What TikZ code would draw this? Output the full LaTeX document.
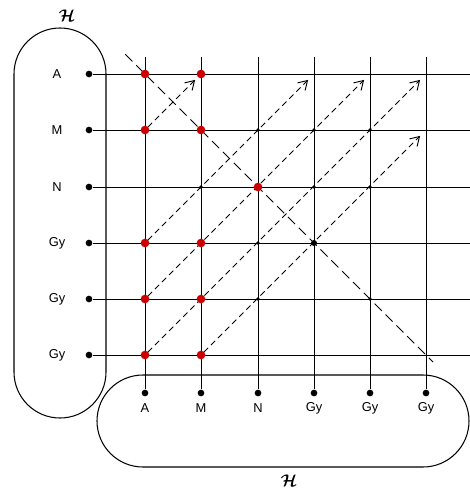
\documentclass[tikz,border=0pt]{standalone}
\usepackage{fontspec}
\setmainfont{Liberation Sans}
\usepackage{bm}
\usetikzlibrary{arrows.meta,calc}
\begin{document}
\begin{tikzpicture}[x=0.3mm, y=-0.3mm,
  grid/.style={line width=0.8pt},
  set/.style={draw, line width=0.9pt, rounded corners=13.8mm},
  enddot/.style={circle, fill, inner sep=0pt, minimum size=2mm},
  hit/.style={circle, fill=red!80!black, inner sep=0pt, minimum size=2.6mm},
  pass/.style={circle, fill, inner sep=0pt, minimum size=1.1mm},
  lbl/.style={font=\fontsize{11}{13}\selectfont},
  flow/.style={-{Straight Barb[length=2.6mm,width=3.2mm]}, line width=0.8pt,
               dash pattern=on 1.8mm off 1.2mm, shorten <=1.2mm, shorten >=2.5mm},
  diag/.style={line width=0.8pt, dash pattern=on 3mm off 1.6mm}]
\useasboundingbox (0,0) rectangle (470,491);
% the two sets
\draw[set] (14,28) rectangle (106,418);
\draw[set] (97,375) rectangle (469,467);
\node[font=\Large] (hleft) at (67,16) {$\bm{\mathcal{H}}$};
\node[font=\Large] (hbottom) at (289,481) {$\bm{\mathcal{H}}$};
% row elements (left set)
\node[enddot] (rA)  at (89,74)  {};
\node[enddot] (rM)  at (89,130) {};
\node[enddot] (rN)  at (89,187) {};
\node[enddot] (rG1) at (89,243) {};
\node[enddot] (rG2) at (89,299) {};
\node[enddot] (rG3) at (89,355) {};
\node[lbl] (tA)  at (57,74)  {A};
\node[lbl] (tM)  at (57,130) {M};
\node[lbl] (tN)  at (57,187) {N};
\node[lbl] (tG1) at (57,243) {Gy};
\node[lbl] (tG2) at (57,299) {Gy};
\node[lbl] (tG3) at (57,355) {Gy};
% column elements (bottom set)
\node[enddot] (cA)  at (145,393) {};
\node[enddot] (cM)  at (201,393) {};
\node[enddot] (cN)  at (258,393) {};
\node[enddot] (cG1) at (314,393) {};
\node[enddot] (cG2) at (370,393) {};
\node[enddot] (cG3) at (426,393) {};
\node[lbl] (sA)  at (145,408) {A};
\node[lbl] (sM)  at (201,408) {M};
\node[lbl] (sN)  at (258,408) {N};
\node[lbl] (sG1) at (314,408) {Gy};
\node[lbl] (sG2) at (370,408) {Gy};
\node[lbl] (sG3) at (426,408) {Gy};
% grid
\coordinate (top) at (0,57);
\coordinate (edge) at (471,0);
\foreach \c in {cA,cM,cN,cG1,cG2,cG3} \draw[grid] (\c) -- (\c |- top);
\foreach \r in {rA,rM,rN,rG1,rG2,rG3} \draw[grid] (\r) -- (\r -| edge);
% diagonal and shifted pairs
\draw[diag] ($(cA |- rA)!-0.07!(cG3 |- rG3)$) -- ($(cA |- rA)!1.025!(cG3 |- rG3)$);
\draw[flow] (cA |- rM)  -- (cM |- rA);
\draw[flow] (cA |- rG1) -- (cG1 |- rA);
\draw[flow] (cA |- rG2) -- (cG2 |- rA);
\draw[flow] (cA |- rG3) -- (cG3 |- rA);
\draw[flow] (cM |- rG3) -- (cG3 |- rM);
% marked pairs
\foreach \c/\r in {cA/rA,cM/rA,cA/rM,cM/rM,cN/rN,cA/rG1,cM/rG1,cA/rG2,cM/rG2,cA/rG3,cM/rG3}
  \node[hit] (h-\c-\r) at (\c |- \r) {};
\foreach \c/\r in {cM/rN,cN/rM,cG1/rM,cG2/rM,cN/rG1,cG1/rN,cG2/rN,cN/rG2,cG2/rG2}
  \node[pass] (p-\c-\r) at (\c |- \r) {};
\node[pass, minimum size=1.8mm] (p-cG1-rG1) at (cG1 |- rG1) {};
\end{tikzpicture}
\end{document}
